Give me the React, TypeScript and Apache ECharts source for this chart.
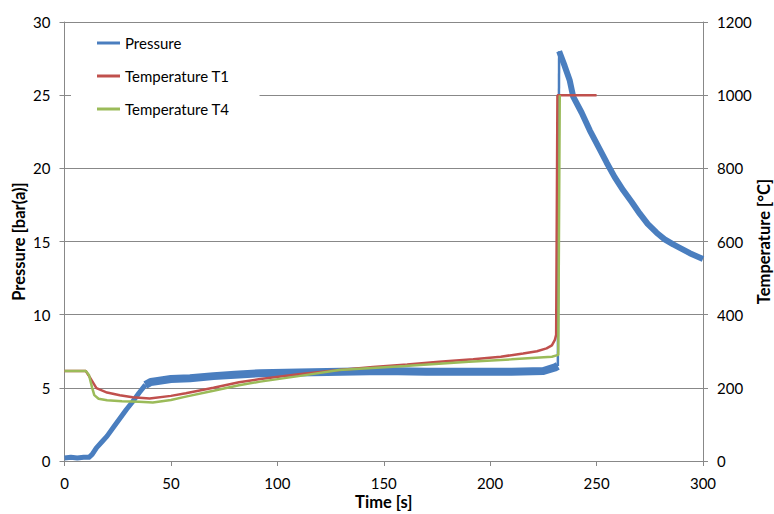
import React, { useEffect, useRef } from "react";
import * as echarts from "echarts";

// Pressure [bar(a)] vs time [s]
const pressureTime = [0, 3, 6, 9, 11.5, 13, 15, 17.5, 20, 23, 26, 29, 32, 35, 38, 40.5, 43, 50, 59, 70, 80, 92, 110, 130, 150, 170, 190, 210, 225, 230.5, 231.8, 232.4, 235, 237.4, 239, 243, 246.8, 251.5, 254.7, 258.5, 262.5, 266.5, 270.3, 274, 278.2, 282, 286, 290, 293.8, 300];
const pressureBar = [0.2, 0.25, 0.2, 0.25, 0.25, 0.45, 0.9, 1.3, 1.7, 2.3, 2.9, 3.5, 4.05, 4.65, 5.2, 5.4, 5.45, 5.6, 5.65, 5.8, 5.9, 6.0, 6.05, 6.1, 6.15, 6.1, 6.1, 6.1, 6.15, 6.4, 6.5, 28.0, 27.0, 26.0, 24.9, 23.8, 22.6, 21.3, 20.4, 19.4, 18.5, 17.7, 16.9, 16.2, 15.6, 15.15, 14.8, 14.5, 14.2, 13.8];

// Temperature T1 [°C]
const t1Time = [0, 10, 12, 15, 20, 26, 32, 40, 50, 57, 70, 82, 92, 110, 129, 145, 161, 176, 192, 205, 215.5, 222, 226.5, 229, 230.4, 231.0, 231.6, 250];
const t1Celsius = [246, 246, 228, 199, 187, 180, 174, 171, 178, 185, 200, 215, 224, 237, 249, 257, 264, 271, 278, 285, 294, 300, 308, 316, 331, 345, 1000, 1000];

// Temperature T4 [°C]
const t4Time = [0, 10, 11.5, 13, 14, 16, 20, 27, 35, 41.5, 50, 57, 70, 82, 92, 110, 129, 160, 190, 210, 229, 232.0, 232.7];
const t4Celsius = [246, 246, 235, 200, 180, 170, 166, 163, 162, 160, 167, 176, 192, 207, 217, 232, 249, 260, 271, 278, 285, 290, 1000];

const legendNames = ["Pressure", "Temperature T1", "Temperature T4"];

const BLUE = "#4A7EBF";
const RED = "#C0504D";
const GREEN = "#9BBB59";
const GRID_GRAY = "#888888";
const FONT = "Lato";

const pairs = (xs: number[], ys: number[]) => xs.map((x, i) => [x, ys[i]]);
const pressureSegment = (lo: number, hi: number) =>
  pairs(pressureTime, pressureBar).filter(([t]) => t >= lo && t <= hi);

export default function App() {
  const ref = useRef<HTMLDivElement>(null);
  useEffect(() => {
    if (!ref.current) return;
    const chart = echarts.init(ref.current, undefined, { renderer: "svg" });
    const labelStyle = { fontFamily: FONT, fontSize: 15, color: "#000", formatter: (v: number) => String(v) };
    const nameStyle = { fontFamily: FONT, fontSize: 16.5, fontWeight: "bold" as const, color: "#000", lineHeight: 16 };
    const pSeries = (data: number[][], width: number) => ({
      name: "Pressure",
      type: "line",
      data,
      yAxisIndex: 0,
      showSymbol: false,
      symbol: "none",
      lineStyle: { width, color: BLUE, cap: "butt", join: "round" },
      itemStyle: { color: BLUE },
      z: 2,
    });
    const legendColors = [BLUE, RED, GREEN];
    chart.setOption({
      animation: false,
      backgroundColor: "#fff",
      grid: { left: 64.5, right: 71, top: 22, bottom: 53, outerBoundsMode: "none", containLabel: false },
      legend: {
        data: legendNames.map((n, i) => ({ name: n, itemStyle: { color: legendColors[i], borderWidth: 0 } })),
        orient: "vertical",
        left: 71,
        top: 25,
        padding: [10, 30, 10, 26],
        backgroundColor: "#fff",
        icon: "rect",
        itemWidth: 23,
        itemHeight: 3,
        itemGap: 17,
        itemStyle: { borderWidth: 0 },
        lineStyle: { width: 0 },
        textStyle: { fontFamily: FONT, fontSize: 15, color: "#000", lineHeight: 16 },
        z: 10,
      },
      xAxis: {
        type: "value",
        min: 0,
        max: 300,
        interval: 50,
        name: "Time [s]",
        nameLocation: "middle",
        nameGap: 33,
        nameMoveOverlap: false,
        nameTextStyle: nameStyle,
        axisLine: { show: true, lineStyle: { color: GRID_GRAY } },
        axisTick: { show: true, length: 5, lineStyle: { color: GRID_GRAY } },
        axisLabel: { ...labelStyle, margin: 14 },
        splitLine: { show: false },
      },
      yAxis: [
        {
          type: "value",
          position: "left",
          min: 0,
          max: 30,
          interval: 5,
          name: "Pressure [bar(a)]",
          nameLocation: "middle",
          nameRotate: 90,
          nameGap: 37.5,
          nameMoveOverlap: false,
          nameTextStyle: nameStyle,
          axisLine: { show: true, lineStyle: { color: GRID_GRAY } },
          axisTick: { show: true, length: 5, lineStyle: { color: GRID_GRAY } },
          axisLabel: { ...labelStyle, margin: 14 },
          splitLine: { show: true, lineStyle: { color: GRID_GRAY, width: 1 } },
        },
        {
          type: "value",
          position: "right",
          min: 0,
          max: 1200,
          interval: 200,
          name: "Temperature [°C]",
          nameLocation: "middle",
          nameRotate: 90,
          nameGap: 53,
          nameMoveOverlap: false,
          nameTextStyle: nameStyle,
          axisLine: { show: true, lineStyle: { color: GRID_GRAY } },
          axisTick: { show: true, length: 5, lineStyle: { color: GRID_GRAY } },
          axisLabel: { ...labelStyle, margin: 14 },
          splitLine: { show: false },
        },
      ],
      series: [
        pSeries(pressureSegment(0, 38), 5),
        pSeries(pressureSegment(38, 231.8), 8),
        pSeries(pressureSegment(231.8, 232.4), 2.5),
        pSeries(pressureSegment(232.4, 300), 6),
        {
          name: "Temperature T1",
          type: "line",
          data: pairs(t1Time, t1Celsius),
          yAxisIndex: 1,
          showSymbol: false,
          symbol: "none",
          lineStyle: { width: 2.5, color: RED },
          itemStyle: { color: RED },
          z: 3,
        },
        {
          name: "Temperature T4",
          type: "line",
          data: pairs(t4Time, t4Celsius),
          yAxisIndex: 1,
          showSymbol: false,
          symbol: "none",
          lineStyle: { width: 2.5, color: GREEN },
          itemStyle: { color: GREEN },
          z: 4,
        },
      ],
    });
    return () => chart.dispose();
  }, []);
  return (
    <div
      ref={ref}
      style={{ position: "fixed", left: 0, top: 0, width: 774, height: 514, background: "#fff" }}
    />
  );
}
